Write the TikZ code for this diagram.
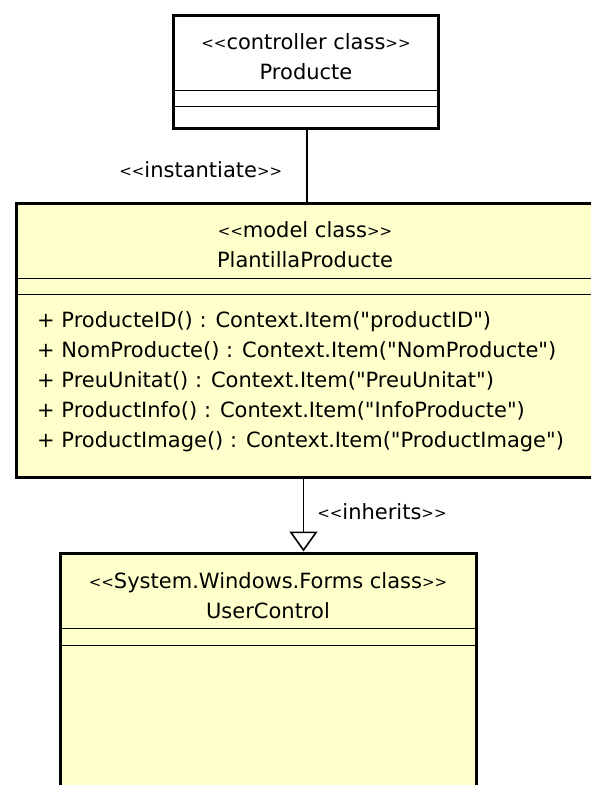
\documentclass[tikz,border=0pt]{standalone}
\usepackage{fontspec}
\newfontfamily\umlfont{DejaVu Sans}
\usetikzlibrary{arrows.meta}

\definecolor{classfill}{RGB}{255,255,204}

% small guillemet-like brackets as the UML tool draws them
\newcommand{\stopen}{\raisebox{1pt}{\fontsize{15}{18}\selectfont<<}}
\newcommand{\stclose}{\raisebox{1pt}{\fontsize{15}{18}\selectfont>>}}

\tikzset{
  classbox/.style={draw, line width=3pt, fill=classfill, inner sep=0pt},
  divider/.style={line width=1.7pt},
  umltext/.style={anchor=base, inner sep=0pt, font=\umlfont\fontsize{21}{25}\selectfont},
  member/.style={umltext, anchor=base west},
  assoc/.style={line width=1.6pt},
  inherit/.style={line width=1.6pt, -{Triangle[open, length=20pt, width=28pt, fill=white]}}
}

\begin{document}
\begin{tikzpicture}[x=1pt,y=-1pt]
   \useasboundingbox (0,0) rectangle (591,785);
   \clip (0,0) rectangle (591,785);

   % controller class
   \node[classbox, fill=white, minimum width=265pt, minimum height=113pt] (producte) at (305.5,71.5) {};
   \draw[divider] ([yshift=-77pt]producte.north west) -- ([yshift=-77pt]producte.north east);
   \draw[divider] ([yshift=-93pt]producte.north west) -- ([yshift=-93pt]producte.north east);
   \node[umltext] (producteStereo) at (306,49) {\stopen controller class\stclose};
   \node[umltext] (producteName) at (306,79) {Producte};

   % model class
   \node[classbox, minimum width=580pt, minimum height=274pt] (plantilla) at (306,340) {};
   \draw[divider] ([yshift=-77pt]plantilla.north west) -- ([yshift=-77pt]plantilla.north east);
   \draw[divider] ([yshift=-93pt]plantilla.north west) -- ([yshift=-93pt]plantilla.north east);
   \node[umltext] (plantillaStereo) at (305,237) {\stopen model class\stclose};
   \node[umltext] (plantillaName) at (305,267) {PlantillaProducte};
   \node[member] (m1) at (37,327) {+ ProducteID() : Context.Item("productID")};
   \node[member] (m2) at (37,357) {+ NomProducte() : Context.Item("NomProducte")};
   \node[member] (m3) at (37,387) {+ PreuUnitat() : Context.Item("PreuUnitat")};
   \node[member] (m4) at (37,417) {+ ProductInfo() : Context.Item("InfoProducte")};
   \node[member] (m5) at (37,447) {+ ProductImage() : Context.Item("ProductImage")};

   % base class
   \node[classbox, minimum width=416pt, minimum height=260pt] (usercontrol) at (268,683) {};
   \draw[divider] ([yshift=-77pt]usercontrol.north west) -- ([yshift=-77pt]usercontrol.north east);
   \draw[divider] ([yshift=-94pt]usercontrol.north west) -- ([yshift=-94pt]usercontrol.north east);
   \node[umltext] (usercontrolStereo) at (268,588) {\stopen System.Windows.Forms class\stclose};
   \node[umltext] (usercontrolName) at (268,618) {UserControl};

   % relations
   \draw[assoc] ([xshift=1.5pt]producte.south) -- ([xshift=1.5pt]producte.south |- plantilla.north)
      node[midway, left=24pt, umltext, anchor=east, yshift=-4pt] {\stopen instantiate\stclose};
   \draw[inherit] ([xshift=-2.5pt]plantilla.south) -- ([xshift=-2.5pt]plantilla.south |- usercontrol.north)
      node[midway, umltext, anchor=west, xshift=13pt, yshift=3pt] {\stopen inherits\stclose};
\end{tikzpicture}
\end{document}
